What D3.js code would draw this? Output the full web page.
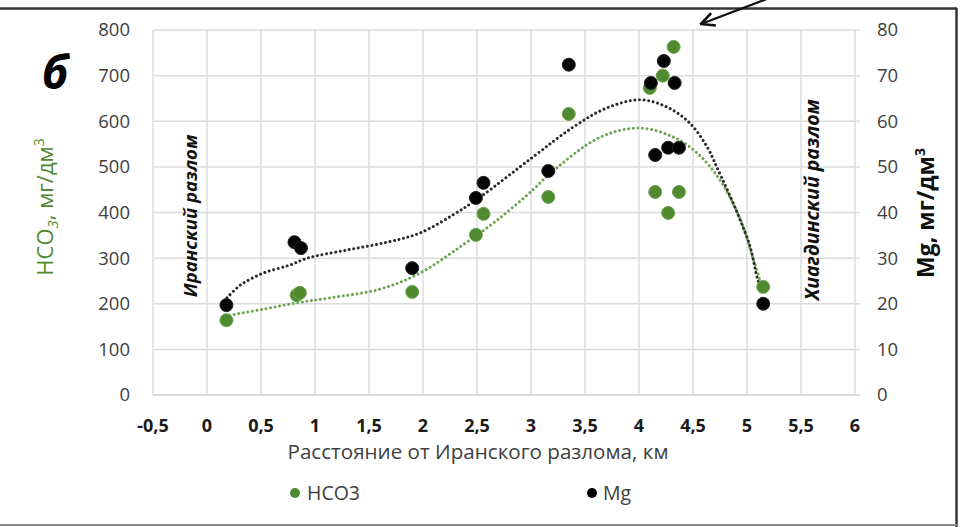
<!DOCTYPE html>
<html><head><meta charset="utf-8">
<script src="https://cdn.jsdelivr.net/npm/d3@7"></script>
<style>body{margin:0;background:#fff}svg{display:block}text{font-family:"Open Sans",sans-serif}</style>
</head><body><svg id="c" width="961" height="527"></svg>
<script>
// ---- data ----
const xTicks = [-0.5,0,0.5,1,1.5,2,2.5,3,3.5,4,4.5,5,5.5,6];
const yLeftTicks = [0,100,200,300,400,500,600,700,800];
const yRightTicks = [0,10,20,30,40,50,60,70,80];
const hcoX = [0.18,0.83,0.86,1.9,2.49,2.56,3.16,3.35,4.1,4.22,4.32,4.15,4.37,4.27,5.15];
const hcoY = [164,219,224,226,351,397,434,616,673,700,763,445,445,399,237];
const mgX = [0.18,0.81,0.87,1.9,2.49,2.56,3.16,3.35,4.11,4.23,4.33,4.15,4.27,4.37,5.15];
const mgY = [19.7,33.5,32.2,27.8,43.2,46.5,49.1,72.4,68.4,73.2,68.4,52.6,54.2,54.2,20.0];
// trend lines
const hcoTrendX = [0.21,0.52,0.83,1.14,1.6,1.97,2.37,2.69,3.02,3.16,3.64,4.01,4.32,4.54,4.75,4.94,5.06,5.14];
const hcoTrendY = [175,188,202,213,232,267,329,384,450,482,565,585,565,530,471,384,296,237];
const mgTrendX = [0.185,0.31,0.52,0.77,0.93,1.3,1.67,1.97,2.28,2.53,3.02,3.39,3.7,4.01,4.26,4.47,4.63,4.72,4.91,5.03,5.1,5.14];
const mgTrendY = [21.3,24.1,26.7,28.5,30.0,31.8,33.5,35.5,39.5,43.4,52.2,58.7,62.9,64.7,63.1,59.6,54.4,50.0,39.9,32.4,25.2,23];
const xTitle = "Расстояние от Иранского разлома, км";
const legendNames = ["НСО3","Mg"];

const svg = d3.select("#c");
const x = d3.scaleLinear().domain([-0.5,6]).range([153,855]);
const yL = d3.scaleLinear().domain([0,800]).range([395,30]);
const yR = d3.scaleLinear().domain([0,80]).range([395,30]);
const fmt = d => String(d).replace(".",",");

// frame
svg.append("line").attr("x1",0).attr("x2",957).attr("y1",8.5).attr("y2",8.5).attr("stroke","#333").attr("stroke-width",2.5);
svg.append("line").attr("x1",956.5).attr("x2",956.5).attr("y1",8).attr("y2",527).attr("stroke","#333").attr("stroke-width",2.5);
svg.append("line").attr("x1",0).attr("x2",957).attr("y1",525).attr("y2",525).attr("stroke","#888").attr("stroke-width",2);

// grid
const g = svg.append("g");
g.selectAll(".hg").data(yLeftTicks.slice(1)).join("line")
  .attr("x1",x(-0.5)).attr("x2",860).attr("y1",d=>yL(d)).attr("y2",d=>yL(d))
  .attr("stroke","#dcdcdc").attr("stroke-width",1.5);
g.selectAll(".vg").data(xTicks).join("line")
  .attr("x1",d=>x(d)).attr("x2",d=>x(d)).attr("y1",yL(800)).attr("y2",yL(0))
  .attr("stroke","#dcdcdc").attr("stroke-width",1.5);
g.append("line").attr("x1",x(-0.5)).attr("x2",860).attr("y1",yL(0)).attr("y2",yL(0)).attr("stroke","#cfcfcf").attr("stroke-width",1.5);

// axes labels
g.selectAll(".yl").data(yLeftTicks).join("text")
  .attr("x",130).attr("y",d=>yL(d)).attr("dy","0.35em").attr("text-anchor","end")
  .attr("font-size",18.5).attr("fill","#404040").text(d=>d);
g.selectAll(".yr").data(yRightTicks).join("text")
  .attr("x",877).attr("y",d=>yR(d)).attr("dy","0.35em").attr("text-anchor","start")
  .attr("font-size",18.5).attr("fill","#404040").text(d=>d);
g.selectAll(".xl").data(xTicks).join("text")
  .attr("x",d=>x(d)).attr("y",426).attr("dy","0.35em").attr("text-anchor","middle")
  .attr("font-size",18).attr("font-weight","bold").attr("fill","#1a1a1a").text(d=>fmt(d));
svg.append("text").attr("x",478).attr("y",459).attr("text-anchor","middle")
  .attr("font-size",19.5).attr("textLength",381).attr("lengthAdjust","spacingAndGlyphs")
  .attr("fill","#404040").text(xTitle);

// titles
const lt = svg.append("text").attr("transform","translate(53,207) rotate(-90)")
  .attr("text-anchor","middle").attr("font-size",22).attr("fill","#4e8a2e");
lt.append("tspan").text("НСО");
lt.append("tspan").attr("font-size",15).attr("dy",5).attr("font-style","italic").text("3");
lt.append("tspan").attr("dy",-5).text(", мг/дм");
lt.append("tspan").attr("font-size",14).attr("dy",-9).text("3");
const rt = svg.append("text").attr("transform","translate(934,213) rotate(-90)")
  .attr("text-anchor","middle").attr("font-size",23).attr("font-weight","bold").attr("fill","#111");
rt.append("tspan").text("Mg, мг/дм");
rt.append("tspan").attr("font-size",14).attr("dy",-9).text("3");

svg.append("text").attr("x",55).attr("y",89).attr("text-anchor","middle")
  .attr("font-size",46).attr("font-weight","bold").attr("font-style","italic").attr("fill","#000").text("б");
svg.append("text").attr("transform","translate(197,216) rotate(-90)").attr("text-anchor","middle")
  .attr("font-size",18.5).attr("font-weight","bold").attr("font-style","italic").attr("fill","#111").text("Иранский разлом");
svg.append("text").attr("transform","translate(819,200) rotate(-90)").attr("text-anchor","middle")
  .attr("font-size",19.5).attr("font-weight","bold").attr("font-style","italic").attr("fill","#111").text("Хиагдинский разлом");

// arrow
const defs = svg.append("defs");
defs.append("marker").attr("id","ah").attr("viewBox","0 0 12 12").attr("refX",11).attr("refY",6)
  .attr("markerUnits","userSpaceOnUse").attr("markerWidth",16).attr("markerHeight",16).attr("orient","auto")
  .append("path").attr("d","M1,1 L11,6 L1,11").attr("fill","none").attr("stroke","#111").attr("stroke-width",2);
svg.append("line").attr("x1",772).attr("y1",-3).attr("x2",701).attr("y2",24)
  .attr("stroke","#111").attr("stroke-width",2.2).attr("marker-end","url(#ah)");

// trend lines
const lineL = d3.line().x(d=>x(d[0])).y(d=>yL(d[1])).curve(d3.curveCatmullRom.alpha(0.5));
const lineR = d3.line().x(d=>x(d[0])).y(d=>yR(d[1])).curve(d3.curveCatmullRom.alpha(0.5));
svg.append("path").attr("d",lineL(d3.zip(hcoTrendX,hcoTrendY))).attr("fill","none")
  .attr("stroke","#6da552").attr("stroke-width",3).attr("stroke-linecap","round").attr("stroke-dasharray","0.01 4.6");
svg.append("path").attr("d",lineR(d3.zip(mgTrendX,mgTrendY))).attr("fill","none")
  .attr("stroke","#2b2b2b").attr("stroke-width",3).attr("stroke-linecap","round").attr("stroke-dasharray","0.01 4.6");

// points
svg.selectAll(".hp").data(d3.zip(hcoX,hcoY)).join("circle")
  .attr("cx",d=>x(d[0])).attr("cy",d=>yL(d[1])).attr("r",6.5)
  .attr("fill","#4f8a2e").attr("stroke","#6ea352").attr("stroke-width",1);
svg.selectAll(".mp").data(d3.zip(mgX,mgY)).join("circle")
  .attr("cx",d=>x(d[0])).attr("cy",d=>yR(d[1])).attr("r",6.5)
  .attr("fill","#050505").attr("stroke","#222").attr("stroke-width",1);

// legend
svg.append("circle").attr("cx",295).attr("cy",493).attr("r",5).attr("fill","#4f8a2e");
svg.append("text").attr("x",307).attr("y",493).attr("dy","0.35em").attr("font-size",19.5).attr("fill","#404040").text(legendNames[0]);
svg.append("circle").attr("cx",592).attr("cy",493).attr("r",5).attr("fill","#000");
svg.append("text").attr("x",603).attr("y",493).attr("dy","0.35em").attr("font-size",19.5).attr("fill","#404040").text(legendNames[1]);
</script></body></html>
